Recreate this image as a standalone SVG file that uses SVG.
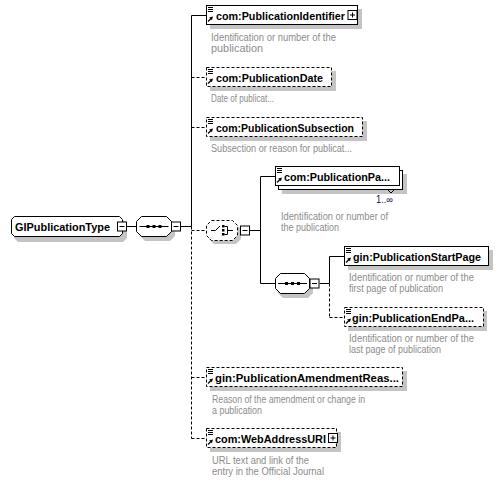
<svg xmlns="http://www.w3.org/2000/svg" width="503" height="482" viewBox="0 0 503 482">
<style>
.box{fill:#fff;stroke:#000;stroke-width:1}
.dbox{fill:#fff;stroke:#000;stroke-width:1;stroke-dasharray:3,2}
.sh{fill:#c4c4c4}
.t{font-family:"Liberation Sans",Arial,sans-serif;font-weight:bold;font-size:11px;fill:#000}
.d{font-family:"Liberation Sans",Arial,sans-serif;font-size:10px;fill:#8c8c8c}
.m{font-family:"Liberation Sans",Arial,sans-serif;font-size:10px;fill:#202040}
.c{stroke:#000;stroke-width:1;fill:none}
.cd{stroke:#000;stroke-width:1;fill:none;stroke-dasharray:3,2}
</style>
<defs>
<g id="ico">
<path d="M2,2.5h5M2,4.5h5M2,6.5h5" stroke="#000" stroke-width="1"/>
<path d="M2,16.5L5,13.5" stroke="#000" stroke-width="1.2"/>
<path d="M7,11.5L3.2,12.6L5.9,15.3Z" fill="#000"/>
</g>
<g id="minus">
<rect x="0.5" y="0.5" width="9" height="9" fill="#fff" stroke="#000"/>
<path d="M2.5,5h5" stroke="#000"/>
</g>
<g id="plus">
<rect x="0.5" y="0.5" width="9" height="9" fill="#fff" stroke="#000"/>
<path d="M2.5,5h5M5,2.5v5" stroke="#000"/>
</g>
<g id="seqsym">
<path d="M3,10.5h29" stroke="#000"/>
<rect x="10" y="9" width="3" height="3" fill="#000"/>
<rect x="16" y="9" width="3" height="3" fill="#000"/>
<rect x="22" y="9" width="3" height="3" fill="#000"/>
</g>
</defs>

<g id="connectors">
<path class="c" d="M126.5,226.5H136.5"/>
<path class="c" d="M180.5,226.5H191.5"/>
<path class="c" d="M191.5,15.5V226.5"/>
<path class="cd" d="M191.5,226.5V438.5"/>
<path class="c" d="M191.5,15.5H206.5"/>
<path class="cd" d="M191.5,77.5H206.5"/>
<path class="cd" d="M191.5,127.5H206.5"/>
<path class="cd" d="M191.5,230.5H206.5"/>
<path class="cd" d="M191.5,377.5H206.5"/>
<path class="cd" d="M191.5,438.5H206.5"/>
<path class="c" d="M249.5,230.5H260.5"/>
<path class="c" d="M260.5,176.5V283.5"/>
<path class="c" d="M260.5,176.5H275.5"/>
<path class="c" d="M260.5,283.5H275.5"/>
<path class="c" d="M319.5,283.5H329.5"/>
<path class="c" d="M329.5,256.5V283.5"/>
<path class="cd" d="M329.5,283.5V317.5"/>
<path class="c" d="M329.5,256.5H344.5"/>
<path class="cd" d="M329.5,317.5H344.5"/>
</g>

<g id="GIPublicationType">
<path class="sh" d="M18,220H123L127,224V238L123,242H18L14,238V224Z"/>
<path class="box" d="M14.5,216.5H119.5L122.5,219.5V233.5L119.5,236.5H14.5L11.5,233.5V219.5Z"/>
<text class="t" x="15" y="231" textLength="95" lengthAdjust="spacingAndGlyphs">GIPublicationType</text>
<use href="#minus" x="117" y="221.5"/>
</g>

<g id="sequence1">
<path class="sh" d="M145,220H170L175,225V236L170,241H145L140,236V225Z"/>
<path class="box" d="M141.5,216.5H166.5L171.5,221.5V231.5L166.5,236.5H141.5L136.5,231.5V221.5Z"/>
<use href="#seqsym" x="136.5" y="216"/>
<use href="#minus" x="171" y="221.5"/>
</g>

<g id="choice">
<path class="sh" d="M214,224H236L241,229V239L236,244H214L209,239V229Z"/>
<path class="dbox" d="M211.5,220.5H232.5L237.5,225.5V235.5L232.5,240.5H211.5L206.5,235.5V225.5Z"/>
<path d="M211,230.5H215.5L220,226" stroke="#000" fill="none"/>
<rect x="222" y="225" width="2.5" height="2.5" fill="#000"/>
<rect x="222" y="229" width="2.5" height="2.5" fill="#000"/>
<rect x="222" y="233" width="2.5" height="2.5" fill="#000"/>
<path d="M224.5,226.5H227.5V234.5H224.5M227.5,230.5H233" stroke="#000" fill="none"/>
<use href="#minus" x="240" y="225.5"/>
</g>

<g id="com_PublicationIdentifier">
<rect class="sh" x="210" y="9" width="152" height="20"/>
<rect class="box" x="206.5" y="5.5" width="151" height="19"/>
<use href="#ico" x="206" y="5"/>
<text class="t" x="216" y="20" textLength="129" lengthAdjust="spacingAndGlyphs">com:PublicationIdentifier</text>
<use href="#plus" x="347.5" y="10"/>
<text class="d" x="211" y="40.5" textLength="125" lengthAdjust="spacingAndGlyphs">Identification or number of the</text>
<text class="d" x="211" y="51.5" textLength="52" lengthAdjust="spacingAndGlyphs">publication</text>
</g>

<g id="com_PublicationDate">
<rect class="sh" x="210" y="71" width="126" height="20"/>
<rect class="dbox" x="206.5" y="67.5" width="125" height="19"/>
<use href="#ico" x="206" y="67"/>
<text class="t" x="216" y="82" textLength="107" lengthAdjust="spacingAndGlyphs">com:PublicationDate</text>
<text class="d" x="211" y="101.5" textLength="63" lengthAdjust="spacingAndGlyphs">Date of publicat...</text>
</g>

<g id="com_PublicationSubsection">
<rect class="sh" x="210" y="121" width="157" height="20"/>
<rect class="dbox" x="206.5" y="117.5" width="156" height="19"/>
<use href="#ico" x="206" y="117"/>
<text class="t" x="216" y="132" textLength="138" lengthAdjust="spacingAndGlyphs">com:PublicationSubsection</text>
<text class="d" x="211" y="151.5" textLength="141" lengthAdjust="spacingAndGlyphs">Subsection or reason for publicat...</text>
</g>

<g id="com_PublicationPa">
<rect class="sh" x="282" y="174" width="125" height="20"/>
<rect class="box" x="278.5" y="170.5" width="124" height="19"/>
<rect class="box" x="275.5" y="166.5" width="124" height="19"/>
<use href="#ico" x="275" y="166"/>
<text class="t" x="284" y="181" textLength="106" lengthAdjust="spacingAndGlyphs">com:PublicationPa...</text>
<path d="M387.5,189.5L391,193L394.5,189.5" stroke="#000" fill="none"/>
<text class="m" x="376" y="203" textLength="17" lengthAdjust="spacingAndGlyphs">1..∞</text>
<text class="d" x="281" y="220" textLength="107" lengthAdjust="spacingAndGlyphs">Identification or number of</text>
<text class="d" x="281" y="231" textLength="58" lengthAdjust="spacingAndGlyphs">the publication</text>
</g>

<g id="sequence2">
<path class="sh" d="M283,277H308L313,282V293L308,298H283L278,293V282Z"/>
<path class="box" d="M280.5,273.5H304.5L309.5,278.5V288.5L304.5,293.5H280.5L275.5,288.5V278.5Z"/>
<use href="#seqsym" x="275" y="273"/>
<use href="#minus" x="309.5" y="278.5"/>
</g>

<g id="gin_PublicationStartPage">
<rect class="sh" x="348" y="250" width="145" height="20"/>
<rect class="box" x="344.5" y="246.5" width="144" height="19"/>
<use href="#ico" x="344" y="246"/>
<text class="t" x="353" y="261" textLength="128" lengthAdjust="spacingAndGlyphs">gin:PublicationStartPage</text>
<text class="d" x="349" y="280.5" textLength="125" lengthAdjust="spacingAndGlyphs">Identification or number of the</text>
<text class="d" x="349" y="291.5" textLength="94" lengthAdjust="spacingAndGlyphs">first page of publication</text>
</g>

<g id="gin_PublicationEndPage">
<rect class="sh" x="348" y="311" width="139" height="20"/>
<rect class="dbox" x="344.5" y="307.5" width="139" height="19"/>
<use href="#ico" x="344" y="307"/>
<text class="t" x="352" y="322" textLength="122" lengthAdjust="spacingAndGlyphs">gin:PublicationEndPa...</text>
<text class="d" x="349" y="341.5" textLength="125" lengthAdjust="spacingAndGlyphs">Identification or number of the</text>
<text class="d" x="349" y="352.5" textLength="92" lengthAdjust="spacingAndGlyphs">last page of publication</text>
</g>

<g id="gin_PublicationAmendmentReason">
<rect class="sh" x="210" y="371" width="197" height="20"/>
<rect class="dbox" x="206.5" y="367.5" width="196" height="19"/>
<use href="#ico" x="206" y="367"/>
<text class="t" x="215" y="382" textLength="184" lengthAdjust="spacingAndGlyphs">gin:PublicationAmendmentReas...</text>
<text class="d" x="212" y="402.5" textLength="153" lengthAdjust="spacingAndGlyphs">Reason of the amendment or change in</text>
<text class="d" x="212" y="413.5" textLength="50" lengthAdjust="spacingAndGlyphs">a publication</text>
</g>

<g id="com_WebAddressURI">
<rect class="sh" x="210" y="432" width="131" height="20"/>
<rect class="dbox" x="206.5" y="428.5" width="130" height="19"/>
<use href="#ico" x="206" y="428"/>
<text class="t" x="215" y="443" textLength="111" lengthAdjust="spacingAndGlyphs">com:WebAddressURI</text>
<use href="#plus" x="328" y="433"/>
<text class="d" x="212" y="463.5" textLength="97" lengthAdjust="spacingAndGlyphs">URL text and link of the</text>
<text class="d" x="212" y="474.5" textLength="112" lengthAdjust="spacingAndGlyphs">entry in the Official Journal</text>
</g>
</svg>
